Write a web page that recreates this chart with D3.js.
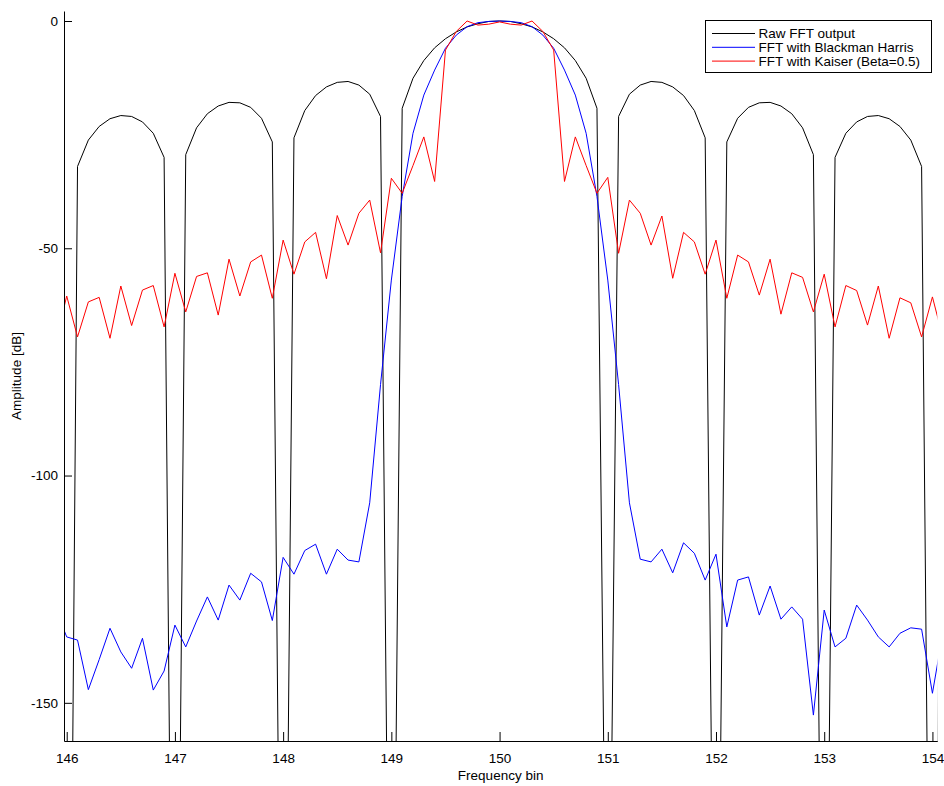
<!DOCTYPE html>
<html>
<head>
<meta charset="utf-8">
<script src="https://cdn.jsdelivr.net/npm/d3@7/dist/d3.min.js"></script>
<style>
  body { margin: 0; background: #fff; }
  text { font-family: "Liberation Sans", Arial, sans-serif; }
</style>
</head>
<body>
<div id="chart-area"></div>
<script>
// Frequency bins (0.1 bin steps, the outer two are clipped by the axes)
var bins = [145.9, 146.0, 146.1, 146.2, 146.3, 146.4, 146.5, 146.6, 146.7, 146.8, 146.9,
    147.0, 147.1, 147.2, 147.3, 147.4, 147.5, 147.6, 147.7, 147.8, 147.9,
    148.0, 148.1, 148.2, 148.3, 148.4, 148.5, 148.6, 148.7, 148.8, 148.9,
    149.0, 149.1, 149.2, 149.3, 149.4, 149.5, 149.6, 149.7, 149.8, 149.9,
    150.0, 150.1, 150.2, 150.3, 150.4, 150.5, 150.6, 150.7, 150.8, 150.9,
    151.0, 151.1, 151.2, 151.3, 151.4, 151.5, 151.6, 151.7, 151.8, 151.9,
    152.0, 152.1, 152.2, 152.3, 152.4, 152.5, 152.6, 152.7, 152.8, 152.9,
    153.0, 153.1, 153.2, 153.3, 153.4, 153.5, 153.6, 153.7, 153.8, 153.9,
    154.0, 154.1];

// Raw FFT output [dB] (nulls fall far below the axis)
var rawFFT = [-32.4, -320, -32.0, -26.2, -23.2, -21.5, -20.8, -21.0, -22.2, -24.7, -30.0,
    -292, -29.4, -23.5, -20.4, -18.7, -17.9, -18.0, -19.0, -21.4, -26.6,
    -277, -25.7, -19.7, -16.4, -14.5, -13.5, -13.3, -14.1, -16.1, -21.0,
    -268, -19.2, -12.6, -8.7, -5.9, -3.9, -2.4, -1.3, -0.6, -0.1,
    0.0, -0.1, -0.6, -1.3, -2.4, -3.9, -5.9, -8.7, -12.6, -19.2,
    -245, -21.0, -16.1, -14.1, -13.3, -13.5, -14.5, -16.4, -19.7, -25.7,
    -262, -26.6, -21.4, -19.0, -18.0, -17.9, -18.7, -20.4, -23.5, -29.4,
    -273, -30.0, -24.7, -22.2, -21.0, -20.8, -21.5, -23.2, -26.2, -32.0,
    -286, -32.4];

// FFT with Blackman Harris window [dB]
var blackmanHarris = [-129.5, -135.5, -136.2, -147.1, -140.5, -133.6, -138.8, -142.4, -135.8, -147.2, -143.0,
    -132.9, -137.7, -132.0, -126.7, -131.8, -124.1, -127.4, -121.5, -123.4, -131.9,
    -118.0, -121.7, -116.5, -115.1, -121.7, -116.2, -118.6, -119.0, -106.0, -80.0,
    -57.0, -38.6, -24.7, -16.3, -10.8, -6.0, -3.1, -1.25, -0.37, -0.1,
    0.0, -0.1, -0.37, -1.25, -3.1, -6.0, -10.8, -16.3, -24.7, -38.6,
    -57.0, -80.0, -106.0, -118.4, -119.0, -116.2, -121.4, -114.8, -117.1, -123.0,
    -117.3, -133.3, -123.0, -122.3, -130.7, -124.3, -131.6, -128.9, -131.6, -152.7,
    -129.6, -137.7, -135.8, -128.5, -131.8, -135.5, -137.7, -134.7, -133.5, -133.8,
    -147.9, -134.1];

// FFT with Kaiser window, beta = 0.5 [dB]
var kaiser = [-70.5, -60.5, -69.5, -61.8, -60.8, -69.8, -58.3, -67.0, -59.2, -58.2, -67.3,
    -55.5, -64.0, -56.2, -55.4, -64.7, -52.4, -60.5, -53.0, -51.5, -61.0,
    -48.2, -55.7, -48.6, -46.5, -56.7, -42.8, -49.3, -42.3, -39.4, -51.0,
    -34.6, -37.9, -31.8, -25.5, -35.3, -6.4, -2.3, 0.0, -0.9, -0.7,
    -0.2, -0.7, -0.9, 0.0, -2.3, -6.4, -35.3, -25.5, -31.8, -37.9,
    -34.4, -51.1, -39.4, -42.3, -49.3, -42.9, -56.6, -46.5, -48.6, -55.7,
    -48.2, -61.0, -51.5, -53.0, -60.3, -52.4, -64.5, -55.4, -56.4, -64.0,
    -55.7, -67.3, -58.2, -59.3, -66.9, -58.3, -69.8, -60.9, -62.0, -69.5,
    -60.7, -70.0];

var seriesNames = ["Raw FFT output", "FFT with Blackman Harris", "FFT with Kaiser (Beta=0.5)"];
var seriesColors = ["#000000", "#0000ff", "#ff0000"];
var xTicks = [146, 147, 148, 149, 150, 151, 152, 153, 154];
var yTicks = [0, -50, -100, -150];

var W = 944, H = 786;
var plot = { left: 64, right: 937.3, top: 11, bottom: 741 };

var svg = d3.select("#chart-area")
    .append("svg")
    .attr("width", W)
    .attr("height", H);

var xScale = d3.scaleLinear()
    .domain([145.975, 154.045])
    .range([plot.left, plot.right]);

var yScale = d3.scaleLinear()
    .domain([2.2, -158.4])
    .range([plot.top, plot.bottom]);

svg.append("clipPath")
    .attr("id", "plot-clip")
    .append("rect")
    .attr("x", plot.left)
    .attr("y", plot.top)
    .attr("width", plot.right - plot.left)
    .attr("height", plot.bottom - plot.top);

// lines
var allSeries = [rawFFT, blackmanHarris, kaiser];
var line = d3.line()
    .x(function(d, i) { return xScale(bins[i]); })
    .y(function(d) { return yScale(d); });

svg.append("g")
    .attr("clip-path", "url(#plot-clip)")
    .selectAll("path")
    .data(allSeries)
    .enter()
    .append("path")
    .attr("d", line)
    .attr("fill", "none")
    .attr("stroke", function(d, i) { return seriesColors[i]; })
    .attr("stroke-width", 1);

// axes, ticks pointing inward like matlab
var xAxis = d3.axisBottom(xScale)
    .tickValues(xTicks)
    .tickFormat(d3.format("d"))
    .tickSizeInner(-9)
    .tickSizeOuter(0)
    .tickPadding(12);

var yAxis = d3.axisLeft(yScale)
    .tickValues(yTicks)
    .tickFormat(function(d) { return d === 0 ? "0" : "-" + Math.abs(d); })
    .tickSizeInner(-8)
    .tickSizeOuter(0)
    .tickPadding(6);

var gx = svg.append("g")
    .attr("class", "x axis")
    .attr("transform", "translate(0," + plot.bottom + ")")
    .call(xAxis);

var gy = svg.append("g")
    .attr("class", "y axis")
    .attr("transform", "translate(" + plot.left + ",0)")
    .call(yAxis);

svg.selectAll(".axis path, .axis line")
    .attr("stroke", "#000")
    .attr("stroke-width", 1);
svg.selectAll(".axis text")
    .attr("fill", "#000")
    .style("font-size", "13.5px")
    .style("font-family", "'Liberation Sans', Arial, sans-serif");

// axis labels
svg.append("text")
    .attr("x", (plot.left + plot.right) / 2)
    .attr("y", 780)
    .attr("text-anchor", "middle")
    .style("font-size", "13.5px")
    .text("Frequency bin");

svg.append("text")
    .attr("transform", "translate(21," + ((plot.top + plot.bottom) / 2) + ") rotate(-90)")
    .attr("text-anchor", "middle")
    .style("font-size", "13.5px")
    .text("Amplitude [dB]");

// legend
var legend = svg.append("g")
    .attr("class", "legend")
    .attr("transform", "translate(705,20)");

legend.append("rect")
    .attr("x", 0.5)
    .attr("y", 0.5)
    .attr("width", 226)
    .attr("height", 52)
    .attr("fill", "#fff")
    .attr("stroke", "#000")
    .attr("stroke-width", 1);

var rows = legend.selectAll(".row")
    .data(seriesNames)
    .enter()
    .append("g")
    .attr("class", "row")
    .attr("transform", function(d, i) { return "translate(0," + (13.5 + i * 13.8) + ")"; });

rows.append("line")
    .attr("x1", 7)
    .attr("x2", 50)
    .attr("y1", 0)
    .attr("y2", 0)
    .attr("stroke", function(d, i) { return seriesColors[i]; })
    .attr("stroke-width", 1);

rows.append("text")
    .attr("x", 53.5)
    .attr("y", 0)
    .attr("dy", "0.35em")
    .style("font-size", "13.5px")
    .text(function(d) { return d; });
</script>
</body>
</html>
